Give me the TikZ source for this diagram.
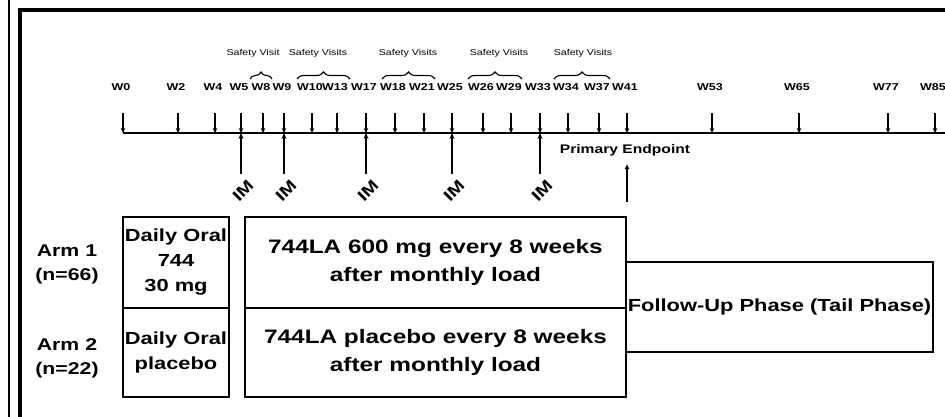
\documentclass[tikz,border=0pt]{standalone}
\usepackage{fontspec}
\setmainfont{Liberation Sans}[FakeStretch=1.25]
\usetikzlibrary{arrows.meta,decorations.pathreplacing}

\begin{document}
\begin{tikzpicture}[x=1pt, y=-1pt,
    wklbl/.style={font=\fontsize{10}{11}\selectfont\bfseries, inner sep=0pt},
    svlbl/.style={font=\fontsize{8.5}{9}\selectfont, inner sep=0pt},
    imlbl/.style={font=\fontsize{16}{16}\selectfont\bfseries, rotate=45, inner sep=0pt},
    eplbl/.style={font=\fontsize{12.5}{13}\selectfont\bfseries, inner sep=0pt},
    armlbl/.style={font=\fontsize{17}{24}\selectfont\bfseries, align=center, inner sep=0pt},
    oralbox/.style={draw, line width=1.2pt, minimum width=106pt, align=center,
                    font=\fontsize{17.5}{25}\selectfont\bfseries, inner sep=0pt},
    dosebox/.style={draw, line width=1.2pt, minimum width=381pt, align=center,
                    font=\fontsize{19.5}{28}\selectfont\bfseries, inner sep=0pt},
    tailbox/.style={draw, line width=1.2pt, minimum width=307pt, minimum height=90pt,
                    font=\fontsize{17.5}{20}\selectfont\bfseries, inner sep=0pt},
    wkarrow/.style={-{Stealth[length=5pt,width=4.5pt]}, line width=1.4pt},
    imarrow/.style={-{Stealth[length=6pt,width=5pt]}, line width=1.4pt},
    eparrow/.style={-{Latex[length=5pt,width=5pt]}, line width=1.2pt},
    brc/.style={decorate, decoration={brace, amplitude=7pt}, line width=1.1pt},
]
\useasboundingbox (0,0) rectangle (945,417);

% --- Frame ---
\draw[line width=2pt] (9,0) -- (9,417);
\draw[line width=3.5pt] (20,417) -- (20,10) -- (945,10);

% --- Week ticks ---
\foreach \w/\x in {0/123, 2/178, 4/215, 5/241, 8/263, 9/284, 10/312, 13/337,
                   17/366, 18/395, 21/424, 25/452, 26/483, 29/511, 33/540,
                   34/568, 37/599, 41/627, 53/712, 65/799, 77/888, 85/935} {
  \node[wklbl] (w\w) at (\x-2, 87) {W\w};
  \coordinate (t\w) at (\x, 113);
  \coordinate (b\w) at (\x, 133);
  \draw[wkarrow] (t\w) -- (b\w);
}
\coordinate (tend) at (945, 133);
\draw[line width=1.4pt] (b0) -- (tend);

% --- Safety visits ---
\node[svlbl] (sv1) at (253, 53) {Safety Visit};
\node[svlbl] (sv2) at (318, 53) {Safety Visits};
\node[svlbl] (sv3) at (408, 53) {Safety Visits};
\node[svlbl] (sv4) at (499, 53) {Safety Visits};
\node[svlbl] (sv5) at (583, 53) {Safety Visits};
\draw[brc] (250, 79) -- (272, 79);
\draw[brc] (297, 79) -- (350, 79);
\draw[brc] (382, 79) -- (435, 79);
\draw[brc] (468, 79) -- (522, 79);
\draw[brc] (554, 79) -- (610, 79);

% --- IM injections ---
\foreach \w/\x in {5/241, 9/284, 17/366, 25/452, 33/540} {
  \node[imlbl] (im\w) at (\x+2, 191) {IM};
  \coordinate (i\w) at (\x, 174);
  \draw[imarrow] (i\w) -- (b\w);
}

% --- Primary endpoint ---
\node[eplbl] (pe) at (625, 150) {Primary Endpoint};
\coordinate (pebot) at (627, 202);
\coordinate (petop) at (627, 164);
\draw[eparrow] (pebot) -- (petop);

% --- Arms ---
\node[armlbl] (arm1) at (67, 264) {Arm 1\\(n=66)};
\node[armlbl] (arm2) at (67, 358) {Arm 2\\(n=22)};

\node[oralbox, minimum height=91pt] (oral1) at (176, 262.5) {Daily Oral\\744\\30 mg};
\node[oralbox, minimum height=89pt] (oral2) at (176, 352.5) {Daily Oral\\placebo};

\node[dosebox, minimum height=91pt] (dose1) at (435.5, 262.5)
     {744LA 600 mg every 8 weeks\\after monthly load};
\node[dosebox, minimum height=89pt] (dose2) at (435.5, 352.5)
     {744LA placebo every 8 weeks\\after monthly load};

\node[tailbox] (tail) at (779.5, 307) {Follow-Up Phase (Tail Phase)};

\end{tikzpicture}
\end{document}
